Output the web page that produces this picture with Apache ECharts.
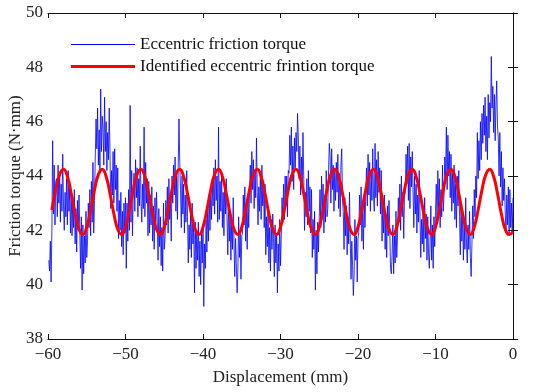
<!DOCTYPE html>
<html>
<head>
<meta charset="utf-8">
<script src="https://cdn.jsdelivr.net/npm/echarts@6/dist/echarts.min.js"></script>
<style>html,body{margin:0;padding:0;background:#fff}#c{width:550px;height:392px}</style>
</head>
<body>
<div id="c"></div>
<script>
// Measured (blue) series: 0.1 mm sampling starting at -59.9 mm
var measuredStart = -59.9;
var measuredStep = 0.1;
var measured = [
40.9,40.5,41.6,40.1,42.0,45.3,42.6,44.4,42.2,43.8,
43.9,42.5,44.4,43.0,44.1,42.3,43.7,42.7,44.8,42.9,
42.0,43.4,42.5,43.9,42.2,44.2,42.7,43.6,41.9,43.5,
41.8,43.2,42.1,43.5,41.5,42.8,41.2,43.1,42.0,43.3,
42.0,40.6,42.5,39.8,42.2,40.4,41.8,40.8,42.7,41.0,
41.6,43.0,42.1,43.5,41.8,43.8,42.3,44.5,41.9,43.1,
44.7,46.1,45.0,46.5,44.4,45.7,44.1,47.2,44.9,46.2,
45.8,44.4,46.9,44.9,46.0,44.2,45.6,44.6,46.5,44.8,
42.8,44.2,43.3,44.9,43.0,45.0,43.5,44.4,42.7,44.3,
41.7,43.1,42.0,43.4,41.4,42.7,41.1,43.0,41.9,43.2,
40.6,43.0,41.6,43.5,42.0,46.6,42.3,44.2,41.8,43.4,
44.1,42.7,44.6,43.2,44.3,42.5,43.9,42.9,45.1,43.1,
42.3,43.7,42.8,45.8,42.5,44.5,43.0,43.9,41.8,43.8,
41.9,43.3,42.2,43.6,41.6,42.9,41.3,43.2,42.1,43.4,
42.3,40.9,42.8,41.4,42.5,40.7,42.1,40.5,43.0,41.3,
41.7,43.1,42.2,43.6,41.9,43.9,42.4,43.3,41.6,44.0,
43.0,44.4,43.3,44.7,42.7,44.0,42.4,44.3,46.1,44.5,
43.5,42.1,44.0,42.6,43.7,41.9,43.3,42.3,44.2,42.5,
40.8,42.2,41.3,42.7,41.0,43.0,41.5,42.4,39.7,42.3,
40.6,42.0,40.9,42.3,40.3,41.6,40.0,41.9,40.8,42.1,
39.2,41.5,40.6,42.4,41.2,42.8,41.6,43.3,42.0,43.5,
42.4,43.8,42.9,44.3,42.6,44.6,43.1,44.0,42.3,45.8,
42.4,43.8,42.7,44.1,42.1,43.4,41.8,43.7,42.6,43.9,
42.5,41.1,43.0,41.6,42.7,40.9,42.3,41.3,43.2,41.5,
40.3,41.7,40.8,39.7,40.5,42.5,41.0,41.9,40.2,41.8,
41.9,43.3,42.2,43.6,41.6,42.9,41.3,43.2,42.1,43.4,
44.4,43.0,44.9,43.5,44.6,42.8,44.2,43.2,45.4,43.4,
42.2,43.6,42.7,44.1,42.4,44.4,42.9,43.8,42.1,43.7,
41.1,42.5,41.4,42.8,40.8,42.1,40.5,42.4,41.3,42.6,
41.7,40.3,42.2,40.8,41.9,39.7,41.5,40.5,42.4,40.7,
41.8,43.2,42.3,43.7,42.4,44.0,42.9,44.0,42.5,44.2,
44.1,45.5,44.4,45.8,43.8,45.1,43.5,45.4,44.3,45.6,
44.9,46.3,45.4,43.9,45.1,43.3,44.7,43.7,45.6,43.9,
42.0,43.4,42.5,43.9,42.2,44.2,42.7,43.6,41.9,43.5,
41.0,42.4,41.3,42.7,39.8,42.0,40.4,42.3,41.2,42.5,
43.5,42.1,44.0,42.6,43.7,41.9,43.3,42.3,44.2,42.5,
42.8,44.2,45.2,44.7,43.0,45.0,43.5,44.4,42.7,44.3,
43.1,44.5,43.4,44.8,42.8,44.1,42.5,44.4,45.0,43.2,
42.7,41.3,43.2,41.8,42.9,41.1,42.5,41.5,43.4,41.7,
40.2,41.6,40.7,39.6,40.4,42.4,40.9,41.8,40.1,41.7,
41.9,43.3,42.2,43.6,41.6,42.9,41.3,43.2,42.1,43.4,
44.3,42.9,44.8,43.3,44.5,42.7,44.1,43.1,45.0,43.3,
42.7,45.2,43.2,44.6,42.9,44.9,43.4,44.3,42.6,44.2,
41.6,43.0,41.9,43.3,41.3,42.6,41.0,42.9,41.8,43.1,
42.0,40.6,40.4,41.1,42.2,40.4,41.8,40.8,42.7,41.0,
41.8,43.2,42.3,43.7,42.0,44.0,42.5,43.4,41.7,43.3,
43.4,44.8,43.7,45.1,43.1,45.2,42.8,44.7,43.6,44.9,
43.5,42.1,44.0,42.6,43.7,41.9,43.3,42.3,44.2,42.5,
41.0,42.4,41.5,42.9,41.2,43.2,41.7,42.6,40.9,42.5,
41.2,40.6,41.5,42.9,40.9,42.2,40.6,42.5,41.4,42.7,
43.7,42.3,44.2,42.8,43.9,42.1,43.5,42.5,44.4,42.7,
43.3,44.7,43.8,45.8,43.5,45.5,44.0,44.9,43.2,44.8,
42.7,44.1,43.0,44.4,42.4,43.7,42.1,44.0,42.9,44.2,
42.5,41.1,43.0,41.6,42.7,40.9,42.3,41.3,43.2,41.5,
40.8,42.2,41.3,42.7,41.0,40.3,41.5,42.9,41.7,43.5,
42.5,44.0,43.2,45.6,43.9,45.3,44.2,46.0,44.6,46.3,
45.2,46.6,45.5,46.9,44.9,46.2,44.6,47.0,45.4,46.7,
46.0,48.4,46.5,47.3,45.6,47.0,45.3,46.6,47.5,45.8,
45.4,44.0,45.6,43.6,44.9,42.9,44.3,43.1,43.9,42.6,
41.9,43.3,42.2,43.6,41.8,43.5,42.1,43.0,41.9,43.2
];
// Identified (red) series: 0.5 mm sampling starting at -59.5 mm
var identifiedStart = -59.5;
var identifiedStep = 0.5;
var identified = [
42.75,43.49,44.06,44.25,43.98,43.35,42.61,42.04,41.85,42.12,
42.75,43.49,44.06,44.25,43.98,43.35,42.61,42.04,41.85,42.12,
42.75,43.49,44.06,44.25,43.98,43.35,42.61,42.04,41.85,42.12,
42.75,43.49,44.06,44.25,43.98,43.35,42.61,42.04,41.85,42.12,
42.75,43.49,44.06,44.25,43.98,43.35,42.61,42.04,41.85,42.12,
42.75,43.49,44.06,44.25,43.98,43.35,42.61,42.04,41.85,42.12,
42.75,43.49,44.06,44.25,43.98,43.35,42.61,42.04,41.85,42.12,
42.75,43.49,44.06,44.25,43.98,43.35,42.61,42.04,41.85,42.12,
42.75,43.49,44.06,44.25,43.98,43.35,42.61,42.04,41.85,42.12,
42.75,43.49,44.06,44.25,43.98,43.35,42.61,42.04,41.85,42.12,
42.75,43.49,44.06,44.25,43.98,43.35,42.61,42.04,41.85,42.12,
42.75,43.49,44.06,44.25,43.98,43.35,42.61,42.04,41.85,41.95
];
var seriesNames = ['Eccentric friction torque', 'Identified eccentric frintion torque'];
var xTitle = 'Displacement (mm)';
var yTitle = 'Friction torque (N\u00b7mm)';

function pairs(start, step, arr) {
  return arr.map(function (v, i) { return [+(start + step * i).toFixed(3), v]; });
}
var font = '"Liberation Serif","Times New Roman",serif';
var chart = echarts.init(document.getElementById('c'), null, {renderer: 'canvas'});
var lbl = {color: '#222', fontFamily: font, fontSize: 17,
  formatter: function (v) { return String(v).replace('-', '\u2212'); }};
var axLine = {show: true, lineStyle: {color: '#111', width: 1}};
var tick = {inside: true, length: 5, lineStyle: {color: '#111'}};
chart.setOption({
  animation: false,
  grid: {left: 48, right: 37, top: 13, bottom: 53, outerBoundsMode: 'none', containLabel: false},
  legend: {
    orient: 'vertical', left: 66, top: 31, itemWidth: 64, itemHeight: 14, itemGap: 5,
    symbolKeepAspect: true,
    textStyle: {fontFamily: font, fontSize: 17, color: '#111'},
    data: [
      {name: seriesNames[0], icon: 'path://M0,0L64,0L64,1.2L0,1.2Z'},
      {name: seriesNames[1], icon: 'path://M0,0L64,0L64,3L0,3Z'}
    ]
  },
  xAxis: [
    {type: 'value', min: -60, max: 0, interval: 10, position: 'bottom',
     name: xTitle, nameLocation: 'middle', nameGap: 30, nameMoveOverlap: false,
     nameTextStyle: {fontFamily: font, fontSize: 17, color: '#222'},
     axisLine: axLine, axisTick: tick,
     axisLabel: Object.assign({margin: 7}, lbl), splitLine: {show: false}},
    {type: 'value', min: -60, max: 0, interval: 10, position: 'top',
     axisLine: axLine, axisTick: tick,
     axisLabel: {show: false}, splitLine: {show: false}}
  ],
  yAxis: [
    {type: 'value', min: 38, max: 50, interval: 2, position: 'left',
     name: yTitle, nameLocation: 'middle', nameGap: 24, nameMoveOverlap: false,
     nameTextStyle: {fontFamily: font, fontSize: 17, color: '#222'},
     axisLine: axLine, axisTick: tick,
     axisLabel: Object.assign({margin: 5}, lbl), splitLine: {show: false}},
    {type: 'value', min: 38, max: 50, interval: 2, position: 'right',
     axisLine: axLine, axisTick: tick,
     axisLabel: {show: false}, splitLine: {show: false}}
  ],
  series: [
    {name: seriesNames[0], type: 'line', data: pairs(measuredStart, measuredStep, measured),
     showSymbol: false, symbol: 'none', color: '#0000ff',
     lineStyle: {color: '#0000ff', width: 0.8}, z: 2},
    {name: seriesNames[1], type: 'line', data: pairs(identifiedStart, identifiedStep, identified),
     showSymbol: false, symbol: 'none', smooth: 0.5, color: '#ff0000',
     lineStyle: {color: '#ff0000', width: 3}, z: 3}
  ]
});
</script>
</body>
</html>
